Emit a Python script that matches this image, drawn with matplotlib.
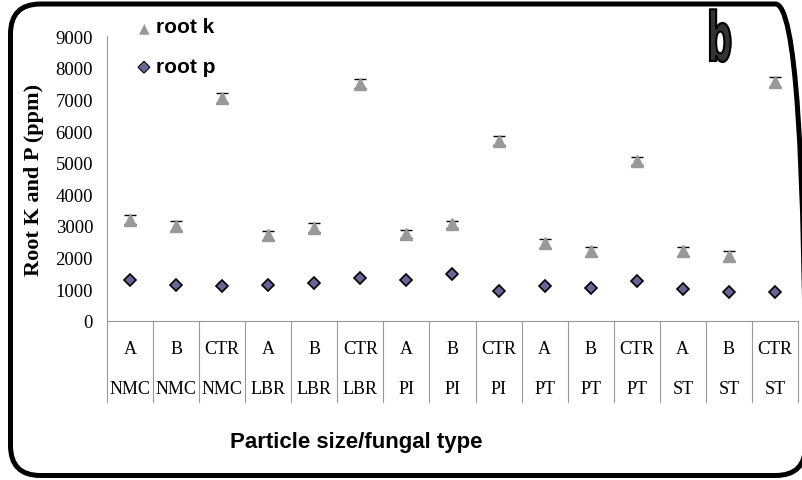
import numpy as np
import matplotlib
matplotlib.use("Agg")
import matplotlib.pyplot as plt
import matplotlib.transforms as mtransforms
import matplotlib.patheffects as pe
from matplotlib.patches import FancyBboxPatch, PathPatch
from matplotlib.textpath import TextPath
from matplotlib.font_manager import FontProperties

# data
treatments = ["A", "B", "CTR"] * 5
groups = ["NMC"] * 3 + ["LBR"] * 3 + ["PI"] * 3 + ["PT"] * 3 + ["ST"] * 3
root_k = [3200, 3000, 7050, 2700, 2950, 7500, 2750, 3050, 5700,
          2450, 2200, 5050, 2200, 2050, 7550]
root_k_err = [150, 150, 150, 150, 150, 150, 120, 120, 150,
              150, 150, 120, 150, 150, 150]
root_p = [1300, 1150, 1100, 1150, 1200, 1370, 1300, 1480, 950,
          1100, 1050, 1250, 1000, 900, 900]
root_p_err = [60, 60, 50, 60, 60, 50, 60, 70, 50,
              60, 60, 60, 60, 60, 40]
yticks = list(range(0, 9001, 1000))

serif = "Liberation Serif"
sans = "Liberation Sans"

fig = plt.figure(figsize=(8.02, 4.81), dpi=100)
ax = fig.add_axes([0.1334, 0.3306, 0.8616, 0.5924])

x = np.arange(len(treatments))
ax.errorbar(x, root_k, yerr=root_k_err, fmt="^", color="#999999",
            markersize=9, ecolor="black", elinewidth=0.8, capsize=4.5,
            capthick=1, zorder=3)
ax.errorbar(x, root_p, yerr=root_p_err, fmt="D", color="#666699",
            markeredgecolor="black", markeredgewidth=1.2, markersize=6.5,
            ecolor="black", elinewidth=0.8, capsize=3, capthick=1, zorder=3)

ax.set_xlim(-0.5, len(treatments) - 0.5)
ax.set_ylim(0, 9000)
ax.set_yticks(yticks)
ax.set_yticklabels([str(t) for t in yticks], fontfamily=serif, fontsize=13.5)
ax.tick_params(axis="y", length=0, pad=10)
ax.set_xticks([])
for side in ["top", "right"]:
    ax.spines[side].set_visible(False)
ax.spines["left"].set_color("#999999")
ax.spines["bottom"].set_color("#999999")
ax.set_ylabel("Root K and P (ppm)", fontfamily=serif, fontweight="bold",
              fontsize=16, labelpad=8)

# category table under the axis
trans = mtransforms.blended_transform_factory(ax.transData, ax.transAxes)
for i in range(len(treatments) + 1):
    ax.plot([i - 0.5, i - 0.5], [0, -0.285], transform=trans, color="#999999",
            lw=0.8, clip_on=False)
for i, (t, g) in enumerate(zip(treatments, groups)):
    ax.text(i, -0.098, t, transform=trans, ha="center", va="center",
            fontfamily=serif, fontsize=13)
    ax.text(i, -0.237, g, transform=trans, ha="center", va="center",
            fontfamily=serif, fontsize=13)

fig.text(0.444, 0.081, "Particle size/fungal type", ha="center", va="center",
         fontfamily=sans, fontweight="bold", fontsize=16)

# legend
fig.text(0.1795, 0.942, "\u25b2", ha="center", va="center", color="#999999",
         fontsize=10, fontfamily="DejaVu Sans")
fig.text(0.195, 0.942, "root k", ha="left", va="center", fontfamily=sans,
         fontweight="bold", fontsize=15)
fig.text(0.1795, 0.859, "\u25c6", ha="center", va="center", color="#666699",
         fontsize=10, fontfamily="DejaVu Sans",
         path_effects=[pe.withStroke(linewidth=1.5, foreground="black")])
fig.text(0.195, 0.859, "root p", ha="left", va="center", fontfamily=sans,
         fontweight="bold", fontsize=15)

# panel letter, squeezed horizontally
bpath = TextPath((0, 0), "b", size=68,
                 prop=FontProperties(family="DejaVu Sans", weight="bold"))
bpath = mtransforms.Affine2D().scale(0.52, 1.0).translate(707, 481 - 62) \
    .transform_path(bpath)
fig.patches.append(PathPatch(bpath, facecolor="#333333", edgecolor="black",
                             lw=1.5, transform=mtransforms.Affine2D()
                             .scale(1 / 100.0) + fig.dpi_scale_trans))

# rounded frame, right side runs just past the image edge
frame = FancyBboxPatch((0.105, 0.045), 7.95, 4.715,
                       boxstyle="round,pad=0,rounding_size=0.3",
                       transform=fig.dpi_scale_trans, fill=False,
                       edgecolor="black", linewidth=3.6, clip_on=False)
fig.patches.append(frame)

fig.savefig("out.png", dpi=100)
